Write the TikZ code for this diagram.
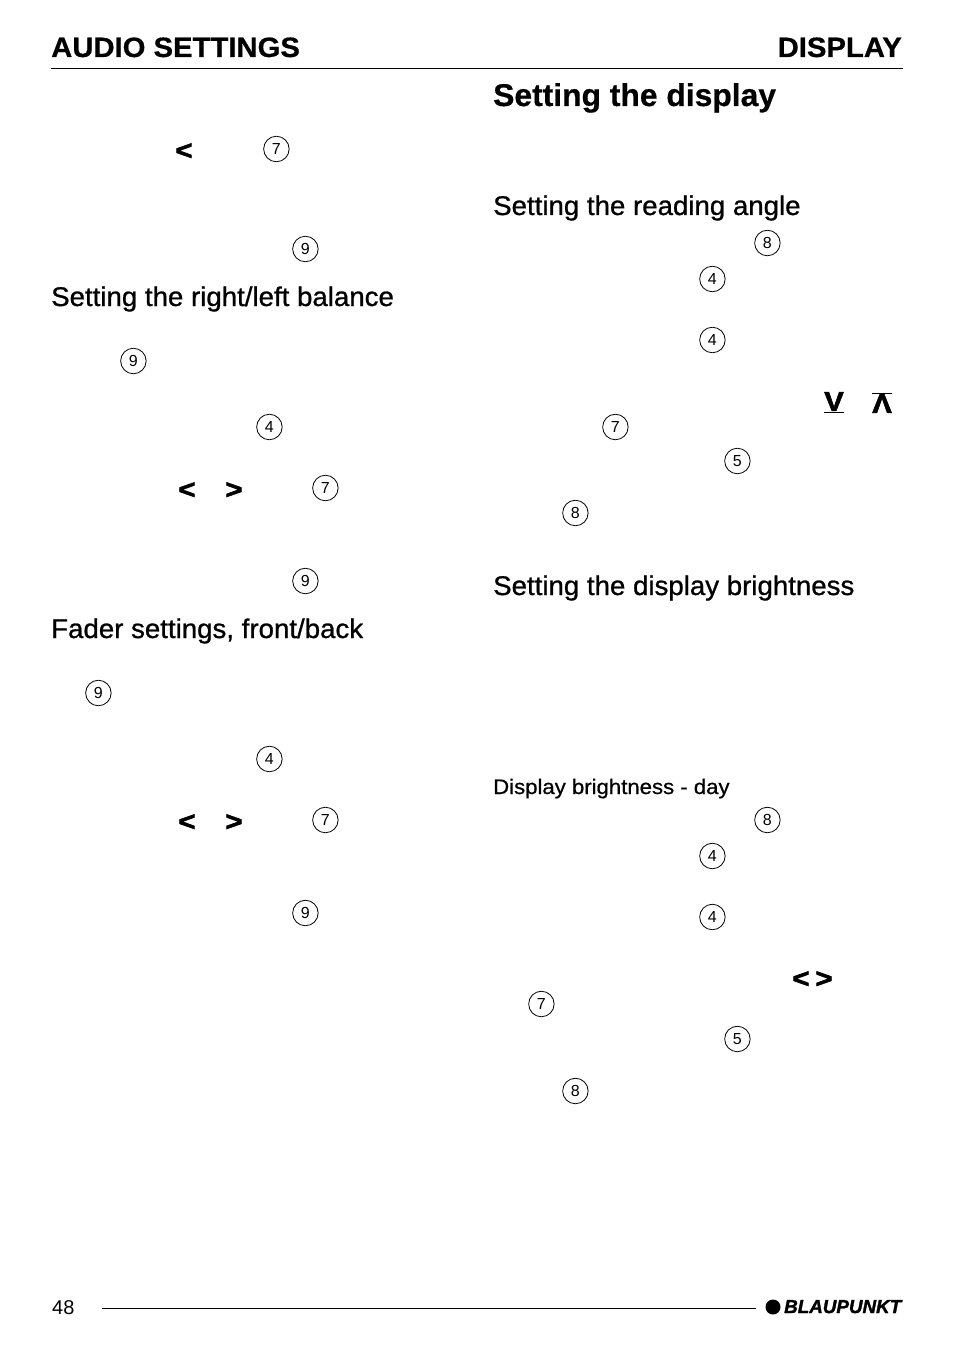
\documentclass[tikz,border=0pt]{standalone}
\usepackage{fontspec}
\setmainfont{Liberation Sans}
\newfontfamily\headfont[FakeStretch=1.045,FakeBold=0.6]{Liberation Sans Bold}
\newfontfamily\titlefont[FakeStretch=1.01,FakeBold=0.6]{Liberation Sans Bold}
\newfontfamily\subfont[FakeStretch=1.024,FakeBold=0.9]{Liberation Sans}
\newfontfamily\smallfont[FakeStretch=1.055,FakeBold=0.7]{Liberation Sans}
\newfontfamily\chevfont[FakeStretch=1.08,FakeBold=2.2]{Liberation Sans Bold}
\newfontfamily\logofont[FakeStretch=1.0,FakeBold=1.6]{Liberation Sans Bold Italic}
\usetikzlibrary{positioning}
\newcommand\mynum[3]{%
  \node[keynum] (#1) at (#2) {#3};
}
\newcommand\mychev[3]{%
  \node[chev] (#1) at (#2) {#3};
}
\begin{document}
\begin{tikzpicture}[
x=1pt,y=-1pt,
keynum/.style={
  circle,
  draw,
  line width=0.8pt,
  inner sep=0pt,
  minimum size=25.5pt,
  xshift=0.4pt,
  font=\fontsize{16}{16}\selectfont},
chev/.style={
  inner sep=0pt,
  yshift=-1.5pt,
  font=\fontsize{27}{27}\chevfont},
head/.style={
  anchor=base west,
  inner sep=0pt,
  font=\fontsize{28}{28}\headfont},
title/.style={
  anchor=base west,
  inner sep=0pt,
  font=\fontsize{31.5}{32}\titlefont},
sub/.style={
  anchor=base west,
  inner sep=0pt,
  font=\fontsize{27}{27}\subfont},
small/.style={
  anchor=base west,
  inner sep=0pt,
  font=\fontsize{21}{21}\smallfont}
]
\useasboundingbox (0,0) rectangle (954,1356);
% header
\node[head] (audio) at (51,57) {AUDIO SETTINGS};
\node[head,anchor=base east] (display) at (902,57) {DISPLAY};
\coordinate (ruleL) at (51,68);
\coordinate (ruleR) at (903,68);
\draw[line width=0.9pt] (ruleL) -- (ruleR);
% left column
\node[sub] (balance) at (51,306) {Setting the right/left balance};
\node[sub] (fader) at (51,638) {Fader settings, front/back};
\mychev{la}{184,150}{<}
\mynum{na}{276,149}{7}
\mynum{nb}{305,249}{9}
\mynum{nc}{133,361}{9}
\mynum{nd}{269,427}{4}
\mychev{lb}{187,489}{<}
\mychev{rb}{234,489}{>}
\mynum{ne}{325,488}{7}
\mynum{nf}{305,581}{9}
\mynum{ng}{98,693}{9}
\mynum{nh}{269,759}{4}
\mychev{lc}{187,821}{<}
\mychev{rc}{234,821}{>}
\mynum{ni}{325,820}{7}
\mynum{nj}{305,913}{9}
% right column
\node[title] (setting) at (493,106) {Setting the display};
\node[sub] (angle) at (493,215) {Setting the reading angle};
\node[sub] (bright) at (493,595) {Setting the display brightness};
\node[small] (day) at (493,794) {Display brightness - day};
\mynum{ma}{767,243}{8}
\mynum{mb}{712,279}{4}
\mynum{mc}{712,340}{4}
\mychev{dn}{834,401}{$\underline{\hbox{V}}$}
\mychev{up}{882,401}{$\overline{\hbox{Λ}}$}
\mynum{md}{615,427}{7}
\mynum{me}{737,461}{5}
\mynum{mf}{575,513}{8}
\mynum{mg}{767,820}{8}
\mynum{mh}{712,856}{4}
\mynum{mi}{712,917}{4}
\mychev{ld}{801,978}{<}
\mychev{rd}{824,978}{>}
\mynum{mj}{541,1004}{7}
\mynum{mk}{737,1039}{5}
\mynum{ml}{575,1091}{8}
% footer
\node[anchor=base west,inner sep=0pt,font=\fontsize{20}{20}\selectfont] (page) at (52,1314) {48};
\coordinate (footL) at (102,1308);
\coordinate (footR) at (756,1308);
\draw[line width=0.9pt] (footL) -- (footR);
\node[circle,fill=black,inner sep=0pt,minimum size=15pt] (dot) at (773,1307) {};
\node[anchor=base west,inner sep=0pt,font=\fontsize{18.8}{19}\logofont] (logo) at (784,1313) {BLAUPUNKT};
\end{tikzpicture}
\end{document}
